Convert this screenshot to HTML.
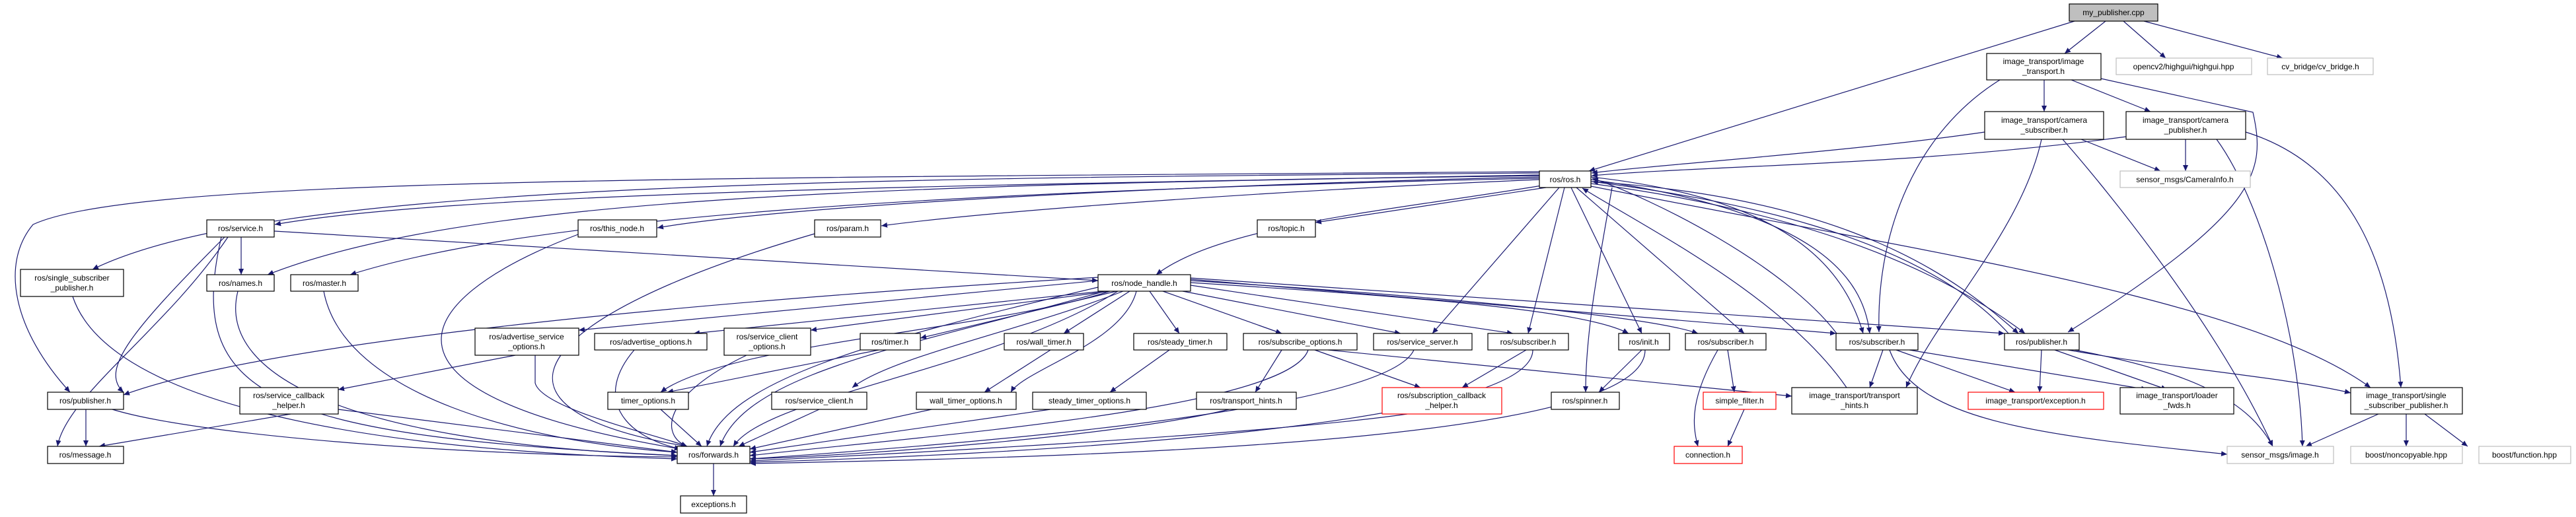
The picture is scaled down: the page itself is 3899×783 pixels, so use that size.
<!DOCTYPE html>
<html><head><meta charset="utf-8"><style>
html,body{margin:0;padding:0;background:#fff;}
svg{display:block;}
text{font-family:"Liberation Sans",sans-serif;font-size:12px;fill:#000;text-anchor:middle;}
.n{fill:#fff;stroke:#000;stroke-width:1.2;}
.g{fill:#fff;stroke:#bfbfbf;stroke-width:1.2;}
.r{fill:#fff;stroke:#ff0000;stroke-width:1.2;}
.e{fill:none;stroke:#191970;stroke-width:1.2;}
</style></head><body>
<svg width="3899" height="783" viewBox="0 0 3899 783" xmlns="http://www.w3.org/2000/svg">
<defs><marker id="a" markerUnits="userSpaceOnUse" markerWidth="10" markerHeight="10" refX="9" refY="5" orient="auto"><path d="M0,1 L9,5 L0,9 z" fill="#191970"/></marker></defs>
<g class="e" marker-end="url(#a)">
<path d="M3140,32 L2405,259"/>
<path d="M3187,32 L3125,81"/>
<path d="M3214,32 L3278,88"/>
<path d="M3245,32 L3455,88"/>
<path d="M3094,121 L3094,169"/>
<path d="M3135,121 L3255,169"/>
<path d="M3180,119 L3410,170 C3430,260 3420,320 3130,503"/>
<path d="M3027,121 C2900,200 2840,350 2844,503"/>
<path d="M3004,200 C2800,230 2500,250 2409,262"/>
<path d="M3150,211 L3270,259"/>
<path d="M3122,211 C3200,300 3360,500 3440,676"/>
<path d="M3090,211 C3060,350 2930,480 2885,587"/>
<path d="M3218,207 C2900,250 2600,250 2409,266"/>
<path d="M3308,211 L3308,259"/>
<path d="M3355,211 C3420,300 3480,500 3485,676"/>
<path d="M3399,200 C3560,250 3620,400 3634,587"/>
<path d="M2330,265 C1500,280 700,290 416,340"/>
<path d="M2330,268 C1800,280 1200,310 995,345"/>
<path d="M2330,272 C1900,290 1500,320 1334,342"/>
<path d="M2340,284 L1991,337"/>
<path d="M2340,280 C2100,320 1850,340 1750,416"/>
<path d="M2330,262 C1200,270 400,280 140,408"/>
<path d="M2330,266 C1300,280 700,300 405,416"/>
<path d="M2330,270 C1400,290 800,330 530,416"/>
<path d="M2330,260 C1000,270 200,270 50,340 C0,400 20,500 106,594"/>
<path d="M2360,284 L2168,505"/>
<path d="M2368,284 L2313,505"/>
<path d="M2378,284 L2485,505"/>
<path d="M2386,284 L2640,505"/>
<path d="M2408,268 C2700,300 2790,400 2820,505"/>
<path d="M2408,272 C2750,320 2820,420 2830,505"/>
<path d="M2408,275 C2800,300 2960,420 3055,505"/>
<path d="M2408,278 C2800,330 2980,440 3065,505"/>
<path d="M2408,282 C2900,380 3400,450 3588,587"/>
<path d="M2780,505 C2700,400 2500,300 2410,270"/>
<path d="M3040,505 C2900,350 2600,300 2410,275"/>
<path d="M2795,587 C2700,450 2500,350 2395,285"/>
<path d="M365,359 L365,416"/>
<path d="M415,350 L1662,425"/>
<path d="M345,359 C250,500 100,600 87,676"/>
<path d="M335,359 C280,600 400,660 1025,690"/>
<path d="M340,359 C200,500 150,560 187,594"/>
<path d="M1662,420 C1000,460 400,520 187,598"/>
<path d="M1662,425 L876,500"/>
<path d="M1670,441 L1050,505"/>
<path d="M1680,441 L1227,500"/>
<path d="M1690,441 L1393,512"/>
<path d="M1710,441 L1610,505"/>
<path d="M1740,441 L1785,505"/>
<path d="M1760,441 L1940,505"/>
<path d="M1790,441 L2120,505"/>
<path d="M1802,432 L2290,505"/>
<path d="M1802,428 C2150,450 2400,470 2465,505"/>
<path d="M1802,425 C2200,450 2500,480 2570,505"/>
<path d="M1802,423 L2779,505"/>
<path d="M1802,421 L3034,505"/>
<path d="M1680,441 C1500,500 1100,520 1000,594"/>
<path d="M1700,441 C1550,500 1350,540 1290,587"/>
<path d="M1720,441 C1700,520 1550,560 1530,594"/>
<path d="M1672,441 C1400,520 1130,560 1090,676"/>
<path d="M1692,441 C1500,560 1160,600 1110,676"/>
<path d="M1662,435 C1300,520 1100,580 1070,676"/>
<path d="M1330,530 L1010,594"/>
<path d="M1590,530 L1490,594"/>
<path d="M1770,530 L1680,594"/>
<path d="M1940,530 L1900,594"/>
<path d="M1990,530 L2150,587"/>
<path d="M2010,530 L2712,600"/>
<path d="M1980,530 C1950,620 1400,660 1135,690"/>
<path d="M2140,530 C2100,620 1500,670 1135,695"/>
<path d="M2310,530 L2213,587"/>
<path d="M2320,530 C2320,650 1500,690 1135,700"/>
<path d="M2485,530 L2420,594"/>
<path d="M2490,530 C2490,660 1800,690 1135,702"/>
<path d="M2440,284 C2420,400 2400,500 2400,594"/>
<path d="M2600,530 C2560,600 2560,640 2570,676"/>
<path d="M2615,530 L2625,594"/>
<path d="M2640,620 L2615,676"/>
<path d="M2850,530 L2830,587"/>
<path d="M2870,530 L3050,594"/>
<path d="M2890,530 L3250,590"/>
<path d="M2860,530 C2900,640 3100,660 3371,688"/>
<path d="M3090,530 L3087,594"/>
<path d="M3110,530 L3280,590"/>
<path d="M3130,530 C3300,560 3450,570 3558,595"/>
<path d="M3140,530 C3300,560 3400,600 3440,676"/>
<path d="M3600,627 L3490,676"/>
<path d="M3642,627 L3642,676"/>
<path d="M3670,627 L3735,676"/>
<path d="M1860,620 C1700,660 1300,690 1135,695"/>
<path d="M2130,627 C1900,660 1300,690 1135,698"/>
<path d="M1000,620 L1062,676"/>
<path d="M1240,620 L1118,676"/>
<path d="M1410,620 L1135,680"/>
<path d="M1590,620 L1135,685"/>
<path d="M810,538 L810,580 C820,620 1000,660 1040,676"/>
<path d="M780,538 L512,590"/>
<path d="M960,530 C900,600 940,660 1030,680"/>
<path d="M1130,538 C1000,600 1000,660 1040,676"/>
<path d="M440,627 L150,676"/>
<path d="M512,620 L1025,685"/>
<path d="M130,620 L130,676"/>
<path d="M170,620 C300,660 700,690 1025,692"/>
<path d="M110,449 C160,600 500,680 1025,695"/>
<path d="M360,441 C330,560 500,670 1025,690"/>
<path d="M490,441 C520,600 800,670 1025,685"/>
<path d="M875,355 C600,460 550,600 1030,680"/>
<path d="M1233,354 C800,480 700,620 1040,676"/>
<path d="M1080,702 L1080,751"/>
</g>
<!-- nodes -->
<rect class="n" x="3132" y="6" width="134" height="26" style="fill:#bfbfbf"/><text x="3199" y="23">my_publisher.cpp</text>
<rect class="n" x="3007" y="81" width="173" height="40"/><text x="3093" y="97">image_transport/image</text><text x="3093" y="112">_transport.h</text>
<rect class="g" x="3203" y="88" width="205" height="25"/><text x="3305" y="105">opencv2/highgui/highgui.hpp</text>
<rect class="g" x="3432" y="88" width="160" height="25"/><text x="3512" y="105">cv_bridge/cv_bridge.h</text>
<rect class="n" x="3004" y="169" width="180" height="42"/><text x="3094" y="186">image_transport/camera</text><text x="3094" y="201">_subscriber.h</text>
<rect class="n" x="3218" y="169" width="181" height="42"/><text x="3308" y="186">image_transport/camera</text><text x="3308" y="201">_publisher.h</text>
<rect class="n" x="2330" y="259" width="78" height="25"/><text x="2369" y="276">ros/ros.h</text>
<rect class="g" x="3209" y="259" width="197" height="25"/><text x="3307" y="276">sensor_msgs/CameraInfo.h</text>
<rect class="n" x="313" y="333" width="102" height="26"/><text x="364" y="350">ros/service.h</text>
<rect class="n" x="875" y="333" width="119" height="26"/><text x="934" y="350">ros/this_node.h</text>
<rect class="n" x="1233" y="333" width="100" height="26"/><text x="1283" y="350">ros/param.h</text>
<rect class="n" x="1903" y="333" width="88" height="26"/><text x="1947" y="350">ros/topic.h</text>
<rect class="n" x="31" y="408" width="156" height="41"/><text x="109" y="425">ros/single_subscriber</text><text x="109" y="440">_publisher.h</text>
<rect class="n" x="313" y="416" width="102" height="25"/><text x="364" y="433">ros/names.h</text>
<rect class="n" x="440" y="416" width="102" height="25"/><text x="491" y="433">ros/master.h</text>
<rect class="n" x="1662" y="416" width="140" height="25"/><text x="1732" y="433">ros/node_handle.h</text>
<rect class="n" x="719" y="497" width="157" height="41"/><text x="797" y="514">ros/advertise_service</text><text x="797" y="529">_options.h</text>
<rect class="n" x="900" y="505" width="170" height="25"/><text x="985" y="522">ros/advertise_options.h</text>
<rect class="n" x="1096" y="497" width="131" height="41"/><text x="1161" y="514">ros/service_client</text><text x="1161" y="529">_options.h</text>
<rect class="n" x="1302" y="505" width="91" height="25"/><text x="1347" y="522">ros/timer.h</text>
<rect class="n" x="1520" y="505" width="120" height="25"/><text x="1580" y="522">ros/wall_timer.h</text>
<rect class="n" x="1716" y="505" width="141" height="25"/><text x="1786" y="522">ros/steady_timer.h</text>
<rect class="n" x="1882" y="505" width="172" height="25"/><text x="1968" y="522">ros/subscribe_options.h</text>
<rect class="n" x="2079" y="505" width="149" height="25"/><text x="2153" y="522">ros/service_server.h</text>
<rect class="n" x="2252" y="505" width="122" height="25"/><text x="2313" y="522">ros/subscriber.h</text>
<rect class="n" x="2450" y="505" width="77" height="25"/><text x="2488" y="522">ros/init.h</text>
<rect class="n" x="2551" y="505" width="122" height="25"/><text x="2612" y="522">ros/subscriber.h</text>
<rect class="n" x="2779" y="505" width="124" height="25"/><text x="2841" y="522">ros/subscriber.h</text>
<rect class="n" x="3034" y="505" width="113" height="25"/><text x="3090" y="522">ros/publisher.h</text>
<rect class="n" x="72" y="594" width="115" height="26"/><text x="129" y="611">ros/publisher.h</text>
<rect class="n" x="363" y="587" width="149" height="40"/><text x="437" y="603">ros/service_callback</text><text x="437" y="618">_helper.h</text>
<rect class="n" x="920" y="594" width="122" height="26"/><text x="981" y="611">timer_options.h</text>
<rect class="n" x="1168" y="594" width="144" height="26"/><text x="1240" y="611">ros/service_client.h</text>
<rect class="n" x="1387" y="594" width="151" height="26"/><text x="1462" y="611">wall_timer_options.h</text>
<rect class="n" x="1563" y="594" width="172" height="26"/><text x="1649" y="611">steady_timer_options.h</text>
<rect class="n" x="1811" y="594" width="151" height="26"/><text x="1886" y="611">ros/transport_hints.h</text>
<rect class="r" x="2092" y="587" width="181" height="40"/><text x="2182" y="603">ros/subscription_callback</text><text x="2182" y="618">_helper.h</text>
<rect class="n" x="2348" y="594" width="103" height="26"/><text x="2399" y="611">ros/spinner.h</text>
<rect class="r" x="2578" y="594" width="110" height="26"/><text x="2633" y="611">simple_filter.h</text>
<rect class="n" x="2712" y="587" width="190" height="40"/><text x="2807" y="603">image_transport/transport</text><text x="2807" y="618">_hints.h</text>
<rect class="r" x="2979" y="594" width="205" height="26"/><text x="3081" y="611">image_transport/exception.h</text>
<rect class="n" x="3209" y="587" width="172" height="40"/><text x="3295" y="603">image_transport/loader</text><text x="3295" y="618">_fwds.h</text>
<rect class="n" x="3558" y="587" width="169" height="40"/><text x="3642" y="603">image_transport/single</text><text x="3642" y="618">_subscriber_publisher.h</text>
<rect class="n" x="72" y="676" width="115" height="26"/><text x="129" y="693">ros/message.h</text>
<rect class="n" x="1025" y="676" width="110" height="26"/><text x="1080" y="693">ros/forwards.h</text>
<rect class="r" x="2534" y="676" width="103" height="26"/><text x="2585" y="693" style="fill:#000">connection.h</text>
<rect class="g" x="3371" y="676" width="161" height="26"/><text x="3451" y="693">sensor_msgs/image.h</text>
<rect class="g" x="3558" y="676" width="169" height="26"/><text x="3642" y="693">boost/noncopyable.hpp</text>
<rect class="g" x="3752" y="676" width="139" height="26"/><text x="3821" y="693">boost/function.hpp</text>
<rect class="n" x="1030" y="751" width="100" height="26"/><text x="1080" y="768">exceptions.h</text>
</svg>
</body></html>
